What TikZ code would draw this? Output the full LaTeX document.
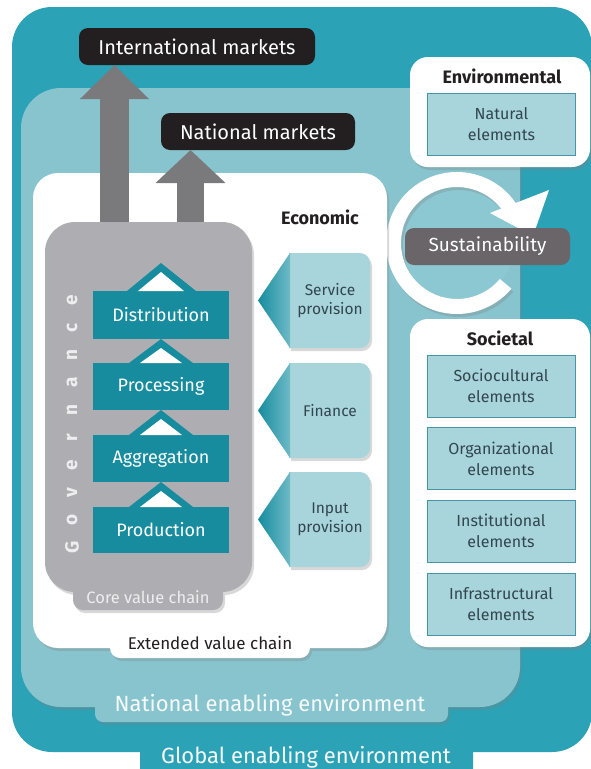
\documentclass[tikz,border=0pt]{standalone}
\usepackage{fontspec}
\setmainfont{Fira Sans}
\usetikzlibrary{arrows.meta,calc,shadows}
\definecolor{gteal}{RGB}{44,162,182}
\definecolor{nteal}{RGB}{136,196,206}
\definecolor{cteal}{RGB}{140,200,210}
\definecolor{coregray}{RGB}{174,174,178}
\definecolor{arrgray}{RGB}{122,122,125}
\definecolor{pteal}{RGB}{22,140,158}
\definecolor{midteal}{RGB}{110,186,198}
\definecolor{elemfill}{RGB}{168,212,220}
\definecolor{elemborder}{RGB}{70,150,165}
\definecolor{elemtext}{RGB}{50,70,78}
\definecolor{sustgray}{RGB}{105,101,104}
\definecolor{mblack}{RGB}{35,31,32}
\definecolor{govtext}{RGB}{238,238,240}
\begin{document}
\begin{tikzpicture}[x=1pt,y=-1pt,
  every node/.style={inner sep=0pt,outer sep=0pt},
  mkt/.style={fill=mblack,text=white,rounded corners=9pt,font=\fontsize{20}{22}\selectfont},
  procbox/.style={fill=pteal,text=white,minimum width=136pt,minimum height=47pt,font=\fontsize{18}{20}\selectfont},
  elem/.style={fill=elemfill,draw=elemborder,line width=0.8pt,text=elemtext,minimum width=148pt,minimum height=62pt,align=center,font=\fontsize{16}{21}\selectfont},
  ptxt/.style={text=elemtext,align=center,font=\fontsize{15.5}{19.5}\selectfont},
  headtxt/.style={text=mblack,font=\bfseries\fontsize{18}{20}\selectfont},
  envlbl/.style={text=white!92!nteal,font=\fontsize{22}{24}\selectfont},
  gov/.style={text=govtext,rotate=90,font=\bfseries\fontsize{19}{19}\selectfont},
  shd/.style={drop shadow={opacity=0.3,shadow xshift=2pt,shadow yshift=-3pt}},
  mktarrow/.style={draw=arrgray,line cap=butt}
]
\useasboundingbox (0,0) rectangle (591,769);
\clip (0,0) rectangle (591,769);
\fill[white] (0,0) rectangle (591,769);

% global enabling environment
\fill[gteal] [rounded corners=40pt] (12,7) rectangle (592,752) [rounded corners=8pt] (140,700) rectangle (473,790);
\node[envlbl] (glob) at (306,757) {Global enabling environment};

% national enabling environment
\fill[nteal,shd] [rounded corners=40pt] (21,88) rectangle (520,707) [rounded corners=8pt] (95,670) rectangle (448,722);
\node[envlbl] (natenv) at (270,705) {National enabling environment};

% sustainability cycle
\fill[cteal] (457,243) circle[radius=58];
\fill[white,shd] (457,243) ++(-33:71) arc[start angle=-33,end angle=-320,radius=71]
   -- ($(457,243)+(-320:56)$) arc[start angle=-320,end angle=-33,radius=56] -- cycle;
\fill[white] (490,213) -- (549,190) -- (533,236) -- cycle;
\node[fill=sustgray,text=white,rounded corners=9pt,minimum width=165pt,minimum height=37pt,font=\fontsize{19}{21}\selectfont] (sust) at (487.5,246.5) {Sustainability};

% economic (extended value chain) box
\fill[white,shd] [rounded corners=25pt] (33,173) rectangle (387,648) [rounded corners=10pt] (110,620) rectangle (310,658);
\node[headtxt] (econ) at (320,217) {Economic};
\node[text=mblack,font=\fontsize{17}{19}\selectfont] (ext) at (210,643) {Extended value chain};

% environmental box
\fill[white,shd,rounded corners=18pt] (410,57) rectangle (590,167);
\node[headtxt] (envh) at (502,76) {Environmental};
\node[elem] (nat) at (501.5,124.5) {Natural\\elements};

% societal box
\fill[white,shd,rounded corners=18pt] (410,319) rectangle (590,647);
\node[headtxt] (soch) at (500,338) {Societal};
\node[elem] (socio) at (501,386) {Sociocultural\\elements};
\node[elem] (org) at (501,458.5) {Organizational\\elements};
\node[elem] (inst) at (501,531) {Institutional\\elements};
\node[elem] (infra) at (501,604) {Infrastructural\\elements};

% markets
\node[mkt,minimum width=236pt,minimum height=37pt] (intl) at (197,46.5) {International markets};
\node[mkt,minimum width=194pt,minimum height=37pt] (natm) at (258,131.5) {National markets};
\coordinate (ia) at (114.5,224);
\coordinate (na) at (190.5,224);
\draw[mktarrow,line width=29pt,-{Triangle[width=67pt,length=34pt]}] (ia) -- (ia |- intl.south);
\draw[mktarrow,line width=27pt,-{Triangle[width=68pt,length=33pt]}] (na) -- (na |- natm.south);

% core value chain
\fill[coregray,shd] [rounded corners=30pt] (45,222) rectangle (252,592) [rounded corners=10pt] (73,570) rectangle (223,610);
\node[text=govtext,font=\fontsize{16.5}{18}\selectfont] (core) at (148,597) {Core value chain};
\foreach \l [count=\i from 0] in {G,o,v,e,r,n,a,n,c,e}
  \node[gov] (gov\i) at (72,{547-27.4*\i}) {\l};

\node[procbox,minimum height=48pt] (dist) at (161,315) {Distribution};
\node[procbox] (proc) at (161,386.5) {Processing};
\node[procbox] (aggr) at (161,458.5) {Aggregation};
\node[procbox,minimum height=46pt] (prod) at (161,530) {Production};

\fill[pteal] ($(dist.north)+(-34,0)$) -- ($(dist.north)+(0,-28)$) -- ($(dist.north)+(35,0)$) -- cycle;
\fill[white] ($(dist.north)+(-23,0)$) -- ($(dist.north)+(0,-19)$) -- ($(dist.north)+(23,0)$) -- cycle;
\foreach \lo/\hi in {proc/dist,aggr/proc,prod/aggr}{
  \fill[pteal] ($(\lo.north)+(-32,0)$) -- (\hi.south) -- ($(\lo.north)+(32,0)$) -- cycle;
  \fill[white] ($(\lo.north)+(-21,0)$) -- ($(\hi.south)+(0,9)$) -- ($(\lo.north)+(21,0)$) -- cycle;
}

% support services
\foreach \yc/\nm/\txt in {300.5/serv/{Service\\provision},410.5/fin/{Finance},519.5/inp/{Input\\provision}}{
  \fill[elemfill,shd] (289,\yc-47.5) [rounded corners=10pt] -- (370,\yc-47.5) -- (370,\yc+47.5) [sharp corners] -- (289,\yc+47.5) -- cycle;
  \shade[left color=pteal,right color=midteal] (258,\yc) -- (290,\yc-47.5) -- (290,\yc+47.5) -- cycle;
  \node[ptxt] (\nm) at (330,\yc) {\txt};
}
\end{tikzpicture}
\end{document}
